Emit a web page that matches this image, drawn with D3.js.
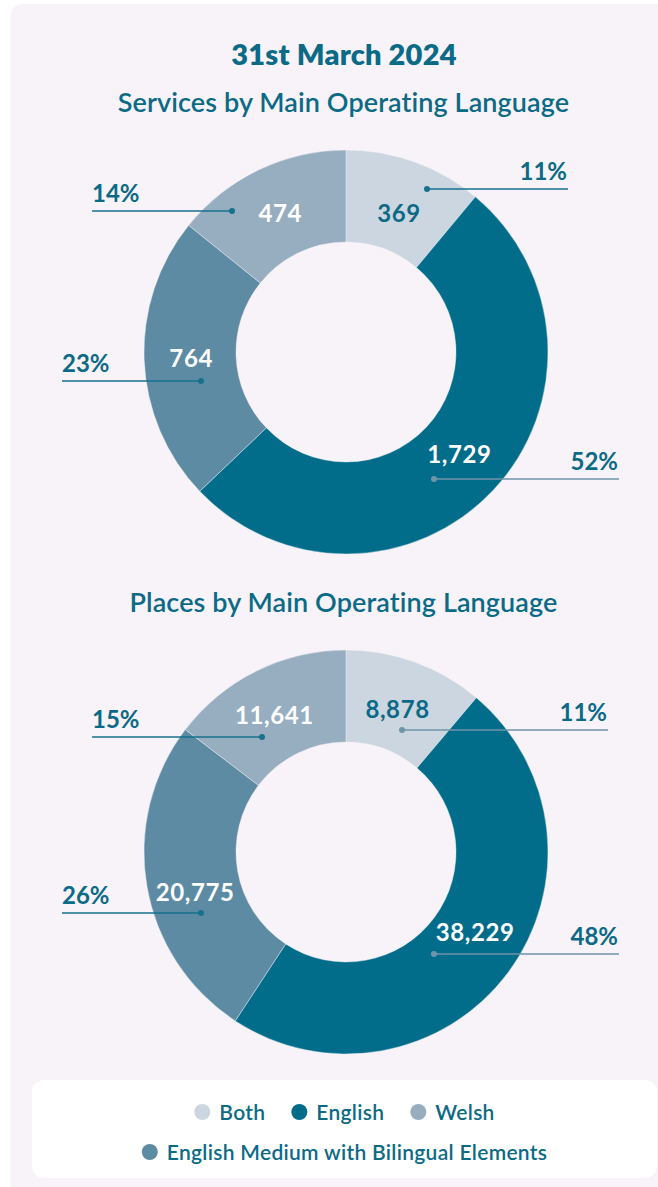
<!DOCTYPE html>
<html>
<head>
<meta charset="utf-8">
<script src="https://cdn.jsdelivr.net/npm/d3@7"></script>
<style>
  html, body { margin: 0; padding: 0; background: #ffffff; }
  svg { display: block; }
  text { font-family: Lato, "Open Sans", sans-serif; }
</style>
</head>
<body>
<svg id="chart" width="658" height="1187"></svg>
<script>
// ---------- DATA ----------
const categories = ["Both", "English", "English Medium with Bilingual Elements", "Welsh"];
const servicesValues = [369, 1729, 764, 474];
const placesValues = [8878, 38229, 20775, 11641];
const legendRow1 = ["Both", "English", "Welsh"];
const legendRow2 = ["English Medium with Bilingual Elements"];
const mainTitle = "31st March 2024";
const chartTitles = ["Services by Main Operating Language", "Places by Main Operating Language"];

// ---------- STYLE / LAYOUT ----------
const TEAL = "#0b6a86";
const LEADER_DARK = "#17718d";
const LEADER_LIGHT = "#6f95aa";
const PANEL = "#f8f3f8";
const color = d3.scaleOrdinal(categories, ["#cbd6e0", "#016d8a", "#5d8ba3", "#97aec1"]);
const valueTextColor = d3.scaleOrdinal(categories, [TEAL, "#ffffff", "#ffffff", "#ffffff"]);

const R_OUT = 202, R_IN = 110, R_LABEL = 150;

const layouts = [
  { values: servicesValues, title: chartTitles[0], titleY: 112, cx: 346, cy: 352,
    dots: [[81, -163], [88, 127], [-145, 29], [-114, -141]],
    lineEnds: [568, 619, 62, 92],
    leaderColors: [LEADER_DARK, LEADER_LIGHT, LEADER_DARK, LEADER_DARK],
    nudges: [[2, 2], [4, 0], [-5, 0], [-1, -3]] },
  { values: placesValues, title: chartTitles[1], titleY: 612, cx: 346, cy: 852,
    dots: [[56, -122], [88, 102], [-145, 61], [-84, -115]],
    lineEnds: [608, 619, 62, 92],
    leaderColors: [LEADER_LIGHT, LEADER_LIGHT, LEADER_DARK, LEADER_DARK],
    nudges: [[0, -2], [9, -9], [-3, 15], [-5, -2]] }
];

const svg = d3.select("#chart");

// panel background
svg.append("rect")
  .attr("x", 10.5).attr("y", 4)
  .attr("width", 700).attr("height", 1250)
  .attr("rx", 12).attr("fill", PANEL);

// main title
svg.append("text")
  .attr("x", 344).attr("y", 65)
  .attr("text-anchor", "middle")
  .attr("font-size", 29).attr("font-weight", 800)
  .attr("letter-spacing", 0.2)
  .attr("fill", TEAL)
  .text(mainTitle);

const pie = d3.pie().sort(null).value(d => d.value);
const arc = d3.arc().innerRadius(R_IN).outerRadius(R_OUT);
const labelArc = d3.arc().innerRadius(R_LABEL).outerRadius(R_LABEL);
const fmtNum = d3.format(",");
const fmtPct = d3.format(".0%");

layouts.forEach(L => {
  const data = categories.map((c, i) => ({ cat: c, value: L.values[i], i }));
  const total = d3.sum(L.values);
  const arcs = pie(data);

  svg.append("text")
    .attr("x", 343.5).attr("y", L.titleY)
    .attr("text-anchor", "middle")
    .attr("font-size", 27).attr("font-weight", 600)
    .attr("letter-spacing", 0.1)
    .attr("fill", TEAL)
    .text(L.title);

  const g = svg.append("g").attr("transform", `translate(${L.cx},${L.cy})`);

  g.selectAll("path.slice")
    .data(arcs)
    .join("path")
    .attr("class", "slice")
    .attr("d", arc)
    .attr("fill", d => color(d.data.cat))
    .attr("stroke", PANEL)
    .attr("stroke-opacity", 0.7)
    .attr("stroke-width", 0.6);

  // value labels
  g.selectAll("text.val")
    .data(arcs)
    .join("text")
    .attr("class", "val")
    .attr("x", d => labelArc.centroid(d)[0] + L.nudges[d.data.i][0])
    .attr("y", d => labelArc.centroid(d)[1] + L.nudges[d.data.i][1])
    .attr("dy", "0.36em")
    .attr("text-anchor", "middle")
    .attr("font-size", 24).attr("font-weight", 700)
    .attr("letter-spacing", 0.6)
    .attr("fill", d => valueTextColor(d.data.cat))
    .text(d => fmtNum(d.data.value));

  // leader lines + percentage labels
  arcs.forEach(d => {
    const i = d.data.i;
    const [dx, dy] = L.dots[i];
    const px = L.cx + dx, py = L.cy + dy;
    const end = L.lineEnds[i];
    const right = end > L.cx;
    const col = L.leaderColors[i];
    svg.append("line")
      .attr("x1", px).attr("y1", py)
      .attr("x2", end).attr("y2", py)
      .attr("stroke", col).attr("stroke-width", 1.5);
    svg.append("circle")
      .attr("cx", px).attr("cy", py).attr("r", 3)
      .attr("fill", col);
    svg.append("text")
      .attr("x", right ? end - 1 : end)
      .attr("y", py - 9)
      .attr("text-anchor", right ? "end" : "start")
      .attr("font-size", 24).attr("font-weight", 700)
      .attr("fill", TEAL)
      .text(fmtPct(d.data.value / total));
  });
});

// legend box
svg.append("rect")
  .attr("x", 32).attr("y", 1080)
  .attr("width", 625).attr("height", 98)
  .attr("rx", 12).attr("fill", "#ffffff");

function legendRow(items, y) {
  const row = svg.append("g");
  const gap = 26, r = 8, textOff = 17;
  let x = 0;
  items.forEach((c, k) => {
    const it = row.append("g").attr("transform", `translate(${x},0)`);
    it.append("circle").attr("cx", r).attr("cy", y).attr("r", r).attr("fill", color(c));
    const t = it.append("text")
      .attr("x", r + textOff).attr("y", y).attr("dy", "0.36em")
      .attr("font-size", 21).attr("font-weight", 600)
      .attr("letter-spacing", 0.3)
      .attr("fill", TEAL).text(c);
    const w = t.node().getComputedTextLength();
    x += r + textOff + w + gap;
  });
  const totalW = x - gap;
  row.attr("transform", `translate(${344.5 - totalW / 2},0)`);
}
legendRow(legendRow1, 1112);
legendRow(legendRow2, 1152);
</script>
</body>
</html>
